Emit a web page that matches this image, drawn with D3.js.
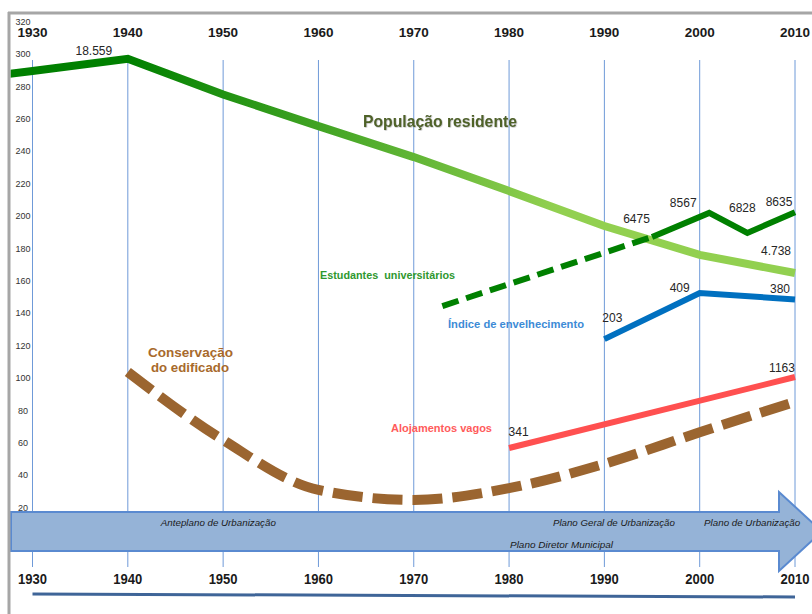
<!DOCTYPE html>
<html>
<head>
<meta charset="utf-8">
<script src="https://cdn.jsdelivr.net/npm/d3@7"></script>
<style>
  html, body { margin: 0; padding: 0; background: #fff; }
  svg { display: block; font-family: "Liberation Sans", Arial, sans-serif; }
</style>
</head>
<body>
<svg id="chart" width="812" height="614"></svg>
<script>
// Decades on the time axis and ticks of the index axis
const decades = [1930, 1940, 1950, 1960, 1970, 1980, 1990, 2000, 2010];
const indexTicks = d3.range(0, 321, 20);

// Resident population (inhabitants)
const popYears  = [1920, 1930, 1940, 1950, 1960, 1970, 1980, 1990, 2000, 2010];
const popValues = [17030, 17780, 18559, 16260, 14220, 12220, 10030, 7770, 5910, 4738];

// University students
const studYears  = [1973, 1995, 2001, 2005, 2010];
const studValues = [460, 6475, 8567, 6828, 8635];

// Ageing index
const ageYears  = [1990, 2000, 2010];
const ageValues = [203, 409, 380];

// Vacant dwellings
const vacYears  = [1980, 2010];
const vacValues = [341, 1163];

// Building condition (read on the index axis)
const consYears  = [1940, 1950, 1960, 1970, 1980, 1990, 2000, 2010];
const consValues = [103.7, 61.7, 30.9, 24.7, 32, 47, 66.5, 85.3];

// Planning instruments along the timeline
const planNames = ["Anteplano de Urbanização", "Plano Geral de Urbanização", "Plano de Urbanização", "Plano Diretor Municipal"];
const planYears = [1949.5, 1991, 2005.5, 1985.5];
const planRows  = [0, 0, 0, 1];

// ---------------------------------------------------------------------------
const svg = d3.select("#chart");
const defs = svg.append("defs");

const x = d3.scaleLinear().domain([1930, 2010]).range([32.5, 795]);
const y = d3.scaleLinear().domain([0, 320]).range([540, 21.6]);

// each series is mapped onto the common index axis by its own scale
const popToIndex  = d3.scaleLinear().domain([4738, 18559]).range([164.8, 297]);
const studToIndex = d3.scaleLinear().domain([6475, 8635]).range([187.06, 202.38]);
const ageToIndex  = d3.scaleLinear().domain([203, 409]).range([124, 152.5]);
const vacToIndex  = d3.scaleLinear().domain([341, 1163]).range([56.8, 100.6]);

const ptFmt = d3.formatLocale({decimal: ",", thousands: ".", grouping: [3], currency: ["", " €"]}).format(",d");
const intFmt = d3.format("d");

defs.append("clipPath").attr("id", "plotClip")
  .append("rect").attr("x", 10.5).attr("y", 14).attr("width", 802).attr("height", 600);

const grad = defs.append("linearGradient").attr("id", "popGrad")
  .attr("gradientUnits", "userSpaceOnUse")
  .attr("x1", x(1940)).attr("x2", x(1985)).attr("y1", 0).attr("y2", 0);
grad.append("stop").attr("offset", 0).attr("stop-color", "#008000");
grad.append("stop").attr("offset", 1).attr("stop-color", "#92d050");

const glow = defs.append("filter").attr("id", "soft")
  .attr("x", "-10%").attr("y", "-30%").attr("width", "120%").attr("height", "160%");
glow.append("feDropShadow").attr("dx", 0.6).attr("dy", 0.6)
  .attr("stdDeviation", 0.7).attr("flood-color", "#7a7a7a").attr("flood-opacity", 0.55);

// vertical decade gridlines
svg.append("g").selectAll("line").data(decades).join("line")
  .attr("x1", d => x(d)).attr("x2", d => x(d))
  .attr("y1", 60).attr("y2", 567)
  .attr("stroke", "#6f9ad8").attr("stroke-width", 1);

// index axis labels
svg.append("g").selectAll("text").data(indexTicks).join("text")
  .attr("x", 23).attr("y", d => y(d)).attr("dy", "0.35em")
  .attr("text-anchor", "middle").attr("font-size", 9).attr("fill", "#333")
  .text(d => d);

// timeline arrow
const bodyTop = 512, bodyBot = 551, headTop = 492, headBot = 571, headX = 779, tipX = 822;
svg.append("path")
  .attr("d", `M11,${bodyTop} L${headX},${bodyTop} L${headX},${headTop} L${tipX},${(bodyTop + bodyBot) / 2} L${headX},${headBot} L${headX},${bodyBot} L11,${bodyBot} Z`)
  .attr("fill", "#95b3d7").attr("stroke", "#5a8ad0").attr("stroke-width", 2);

// planning instruments written on the arrow
const planWidths = [115, 122, 96, 103];
svg.append("g").selectAll("text").data(planNames).join("text")
  .attr("x", (d, i) => x(planYears[i]))
  .attr("y", (d, i) => planRows[i] === 0 ? 526 : 548)
  .attr("text-anchor", "middle").attr("font-size", 9).attr("font-style", "italic")
  .attr("fill", "#1a1a1a")
  .attr("textLength", (d, i) => planWidths[i]).attr("lengthAdjust", "spacingAndGlyphs")
  .text(d => d);

// year labels, top and bottom
svg.append("g").selectAll("text").data(decades).join("text")
  .attr("x", d => x(d)).attr("y", 37)
  .attr("text-anchor", "middle").attr("font-size", 13.5).attr("font-weight", "bold")
  .attr("fill", "#1a1a1a").text(d => d);
svg.append("g").selectAll("text").data(decades).join("text")
  .attr("x", d => x(d)).attr("y", 584)
  .attr("text-anchor", "middle").attr("font-size", 14.5).attr("font-weight", "bold")
  .attr("fill", "#1a1a1a")
  .attr("textLength", 29).attr("lengthAdjust", "spacingAndGlyphs")
  .text(d => d);

// underline below the timeline
svg.append("line")
  .attr("x1", x(1930)).attr("x2", x(2010)).attr("y1", 594).attr("y2", 597)
  .attr("stroke", "#3f6598").attr("stroke-width", 3);

// ---------------------------------------------------------------------------
const plot = svg.append("g").attr("clip-path", "url(#plotClip)");
const line = d3.line().x(d => x(d[0])).y(d => y(d[1]));

const consPts = consYears.map((yr, i) => [yr, consValues[i]]);
plot.append("path")
  .attr("d", d3.line().x(d => x(d[0])).y(d => y(d[1])).curve(d3.curveMonotoneX)(consPts))
  .attr("fill", "none").attr("stroke", "#9b6530").attr("stroke-width", 10)
  .attr("stroke-dasharray", "30,10");

const popPts = popYears.map((yr, i) => [yr, popToIndex(popValues[i])]);
plot.append("path").attr("d", line(popPts))
  .attr("fill", "none").attr("stroke", "url(#popGrad)").attr("stroke-width", 8)
  .attr("stroke-linejoin", "miter");

const studPts = studYears.map((yr, i) => [yr, studToIndex(studValues[i])]);
plot.append("path").attr("d", line(studPts.slice(0, 2)))
  .attr("fill", "none").attr("stroke", "#008000").attr("stroke-width", 6)
  .attr("stroke-dasharray", "17,8");
plot.append("path").attr("d", line(studPts.slice(1)))
  .attr("fill", "none").attr("stroke", "#008000").attr("stroke-width", 6)
  .attr("stroke-linejoin", "miter");

const agePts = ageYears.map((yr, i) => [yr, ageToIndex(ageValues[i])]);
plot.append("path").attr("d", line(agePts))
  .attr("fill", "none").attr("stroke", "#0070c0").attr("stroke-width", 6)
  .attr("stroke-linejoin", "miter");

const vacPts = vacYears.map((yr, i) => [yr, vacToIndex(vacValues[i])]);
plot.append("path").attr("d", line(vacPts))
  .attr("fill", "none").attr("stroke", "#ff5050").attr("stroke-width", 6);

// value labels next to their points
const notes = [
  {pts: popPts,  vals: popValues,  i: 2, dx: -34,  dy: -4,  fmt: ptFmt},
  {pts: popPts,  vals: popValues,  i: 9, dx: -19,  dy: -18, fmt: ptFmt},
  {pts: studPts, vals: studValues, i: 1, dx: -15.5, dy: -14, fmt: intFmt},
  {pts: studPts, vals: studValues, i: 2, dx: -26,  dy: -6,  fmt: intFmt},
  {pts: studPts, vals: studValues, i: 3, dx: -5,   dy: -21, fmt: intFmt},
  {pts: studPts, vals: studValues, i: 4, dx: -16,  dy: -6,  fmt: intFmt},
  {pts: agePts,  vals: ageValues,  i: 0, dx: 8,    dy: -17, fmt: intFmt},
  {pts: agePts,  vals: ageValues,  i: 1, dx: -20,  dy: -1,  fmt: intFmt},
  {pts: agePts,  vals: ageValues,  i: 2, dx: -15,  dy: -6,  fmt: intFmt},
  {pts: vacPts,  vals: vacValues,  i: 0, dx: 9.5,  dy: -12, fmt: intFmt},
  {pts: vacPts,  vals: vacValues,  i: 1, dx: -13,  dy: -5,  fmt: intFmt}
];
svg.append("g").selectAll("text").data(notes).join("text")
  .attr("x", d => x(d.pts[d.i][0]) + d.dx)
  .attr("y", d => y(d.pts[d.i][1]) + d.dy)
  .attr("text-anchor", "middle").attr("font-size", 12).attr("fill", "#262626")
  .text(d => d.fmt(d.vals[d.i]));

// series names
const names = svg.append("g").attr("font-weight", "bold");
names.append("text").attr("x", 440).attr("y", 127).attr("text-anchor", "middle")
  .attr("font-size", 16.5).attr("fill", "#4f6228").attr("filter", "url(#soft)")
  .attr("textLength", 154).attr("lengthAdjust", "spacingAndGlyphs")
  .text("População residente");
names.append("text").attr("x", 320).attr("y", 279)
  .attr("font-size", 11).attr("fill", "#2f982f").style("white-space", "pre")
  .attr("textLength", 135).attr("lengthAdjust", "spacingAndGlyphs")
  .text("Estudantes  universitários");
names.append("text").attr("x", 448).attr("y", 328)
  .attr("font-size", 11.5).attr("fill", "#3d8bd6")
  .attr("textLength", 136).attr("lengthAdjust", "spacingAndGlyphs")
  .text("Índice de envelhecimento");
names.append("text").attr("x", 190.5).attr("y", 357).attr("text-anchor", "middle")
  .attr("font-size", 13.5).attr("fill", "#a86a2c")
  .attr("textLength", 85).attr("lengthAdjust", "spacingAndGlyphs")
  .text("Conservação");
names.append("text").attr("x", 190).attr("y", 372).attr("text-anchor", "middle")
  .attr("font-size", 13.5).attr("fill", "#a86a2c")
  .attr("textLength", 78).attr("lengthAdjust", "spacingAndGlyphs")
  .text("do edificado");
names.append("text").attr("x", 391).attr("y", 431.5)
  .attr("font-size", 11.5).attr("fill", "#ff5b5b")
  .attr("textLength", 101).attr("lengthAdjust", "spacingAndGlyphs")
  .text("Alojamentos vagos");

// outer frame (top and left edges)
svg.append("line").attr("x1", 8).attr("x2", 812).attr("y1", 13).attr("y2", 13)
  .attr("stroke", "#a6a6a6").attr("stroke-width", 3);
svg.append("line").attr("x1", 9).attr("x2", 9).attr("y1", 12).attr("y2", 614)
  .attr("stroke", "#a6a6a6").attr("stroke-width", 3);
</script>
</body>
</html>
